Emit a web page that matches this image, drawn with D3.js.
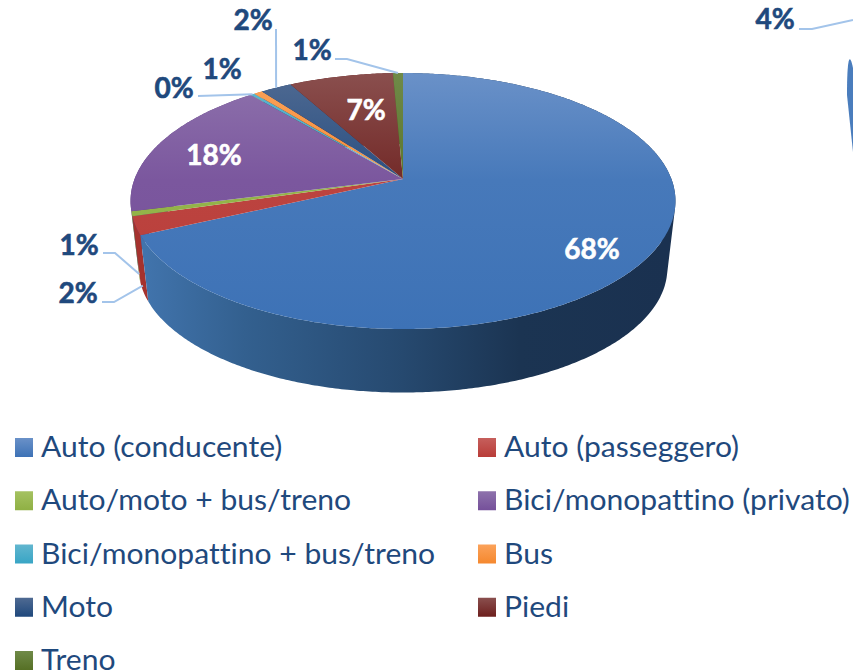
<!DOCTYPE html>
<html><head><meta charset="utf-8">
<script src="https://cdn.jsdelivr.net/npm/d3@7/dist/d3.min.js"></script>
<style>
html,body{margin:0;padding:0;background:#fff;overflow:hidden}
svg{display:block}
text{font-family:Lato,"Open Sans",sans-serif;font-variant-ligatures:none}
</style></head><body>
<svg id="c" width="853" height="671"></svg>
<script>
// ---- data ----
const categories = ["Auto (conducente)","Auto (passeggero)","Auto/moto + bus/treno","Bici/monopattino (privato)","Bici/monopattino + bus/treno","Bus","Moto","Piedi","Treno"];
const shares = [68.1,2.3,0.6,17.9,0.3,0.6,2.2,7.3,0.7];
const faceTop    = ["#6a91c8","#c65f5c","#a5c261","#8e72ac","#62b6cf","#fba25a","#4f6a92","#8a4f4e","#6f8a48"];
const faceBottom = ["#3d72b6","#b93c38","#8fb044","#75509a","#38a5c5","#f5882e","#1f487c","#6d1f1d","#567025"];
const wallColors = ["#3a6aa3","#a5322e","#7c9a35","#5c3e7d","#2d8ea9","#d9761f","#1a3a63","#591816","#47601e"];
const wallShade  = [["#4275ae",0],["#33608f",.2],["#26496f",.5],["#1b3452",.72],["#1a3150",1]];
const otherPieLabel = "4%";

// ---- layout ----
const W=853,H=671;
const rim = {cx:403, cy:179, a:268.4, b:124.2, k:0.172};
const base= {cx:403, cy:247, a:260.4, b:120.5, k:0.172};
const project=(g,t)=>{const u=Math.sin(t),v=Math.cos(t),w=1+g.k*v;return [g.cx+g.a*u/w,g.cy-g.b*v/w];};
const STEP=0.01;
const samples=(a0,a1)=>{const n=Math.max(1,Math.ceil((a1-a0)/STEP));return d3.range(n+1).map(i=>a0+(a1-a0)*i/n);};

const svg=d3.select("#c");
const defs=svg.append("defs");
const pie=d3.pie().sort(null).value(d=>d).startAngle(0).endAngle(2*Math.PI);
const arcs=pie(shares);
const line=d3.line();

categories.forEach((c,i)=>{
  const g=defs.append("linearGradient").attr("id","face"+i).attr("gradientUnits","userSpaceOnUse")
    .attr("x1",0).attr("x2",0).attr("y1",rim.cy-106).attr("y2",rim.cy+150);
  g.append("stop").attr("offset",0).attr("stop-color",faceTop[i]);
  g.append("stop").attr("offset",.42).attr("stop-color",d3.interpolateRgb(faceTop[i],faceBottom[i])(.78));
  g.append("stop").attr("offset",1).attr("stop-color",faceBottom[i]);
  const s=defs.append("linearGradient").attr("id","sw"+i).attr("x1",0).attr("x2",0).attr("y1",0).attr("y2",1);
  s.append("stop").attr("offset",0).attr("stop-color",faceTop[i]);
  s.append("stop").attr("offset",1).attr("stop-color",faceBottom[i]);
});
const wg=defs.append("linearGradient").attr("id","wall0").attr("gradientUnits","userSpaceOnUse")
  .attr("x1",rim.cx-265).attr("x2",rim.cx+265).attr("y1",0).attr("y2",0);
wallShade.forEach(([c,o])=>wg.append("stop").attr("offset",o).attr("stop-color",c));

// walls: a union of same-wound quads, so the straight silhouette edges are filled
const quad=(a,b)=>{
  let q=[project(rim,a),project(rim,b),project(base,b),project(base,a)];
  if(d3.polygonArea(q)<0) q=q.reverse();
  return line(q)+"Z";
};
const wallOrder=d3.range(arcs.length).reverse();
svg.append("g").selectAll("path").data(wallOrder).join("path")
  .attr("d",i=>{const t=samples(arcs[i].startAngle,arcs[i].endAngle);
    return d3.pairs(t).map(([a,b])=>quad(a,b)).join("");})
  .attr("fill",i=>i===0?"url(#wall0)":wallColors[i]);

// top faces
svg.append("g").selectAll("path").data(arcs).join("path")
  .attr("d",d=>line([[rim.cx,rim.cy]].concat(samples(d.startAngle,d.endAngle).map(a=>project(rim,a))))+"Z")
  .attr("fill",(d,i)=>`url(#face${i})`);

// the neighbouring chart, cut by the right edge of the picture
const other={cx:859,cy:209,px:[-12,-114],qx:[0,-97]};
const otherArc=samples(0,1.2).map(t=>[other.cx+Math.cos(t)*other.px[0]+Math.sin(t)*other.qx[0],
                                       other.cy+Math.cos(t)*other.px[1]+Math.sin(t)*other.qx[1]]);
svg.append("path").attr("d",line([[other.cx,other.cy]].concat(otherArc))+"Z").attr("fill","#4a7dbd");

// leaders & labels
const labelLayout=[
 {i:0,x:592,y:249,fill:"#fff"},
 {i:1,x:78,y:293,path:[[102,302],[114,302]],wall:.9},
 {i:2,x:79,y:245,path:[[103,253],[115,253]],wall:.9},
 {i:3,x:214,y:155,fill:"#fff"},
 {i:4,x:174,y:88,path:[[198,96]],wall:0},
 {i:5,x:222,y:69},
 {i:6,x:253,y:20,path:[[276,29]],wall:0},
 {i:7,x:366,y:110,fill:"#fff"},
 {i:8,x:312,y:50,path:[[335,59],[347,59]],wall:0},
];
const fmt=v=>Math.round(v)+"%";
labelLayout.filter(l=>l.path).forEach(l=>{
  const m=(arcs[l.i].startAngle+arcs[l.i].endAngle)/2,p0=project(rim,m),p1=project(base,m);
  const end=[p0[0]+(p1[0]-p0[0])*l.wall,p0[1]+(p1[1]-p0[1])*l.wall];
  svg.append("path").attr("d",line(l.path.concat([end]))).attr("fill","none").attr("stroke","#a3c4ea").attr("stroke-width",2);
});
svg.append("path").attr("d",line([[799,29],[812,29],[853,20]])).attr("fill","none").attr("stroke","#a3c4ea").attr("stroke-width",2);

const lab=svg.append("g").attr("font-size",28).attr("font-weight",700).attr("text-anchor","middle")
  .attr("stroke-width",0.6);
labelLayout.forEach(l=>lab.append("text").attr("x",l.x).attr("y",l.y).attr("dy","0.36em")
  .attr("fill",l.fill||"#1f497d").attr("stroke",l.fill||"#1f497d").text(fmt(shares[l.i])));
lab.append("text").attr("x",775).attr("y",19).attr("dy","0.36em").attr("fill","#1f497d").attr("stroke","#1f497d").text(otherPieLabel);

// legend
const cols=d3.scaleOrdinal().domain([0,1]).range([15,478]);
const rows=d3.scaleLinear().domain([0,4]).range([438,651]);
const leg=svg.append("g").selectAll("g").data(categories).join("g")
  .attr("transform",(d,i)=>`translate(${cols(i%2)},${rows(Math.floor(i/2))})`);
leg.append("rect").attr("width",18).attr("height",19).attr("fill",(d,i)=>`url(#sw${i})`);
leg.append("text").attr("transform","translate(26,19) scale(1.075,1)").attr("font-size",28).attr("fill","#1f497d").text(d=>d);
</script></body></html>
